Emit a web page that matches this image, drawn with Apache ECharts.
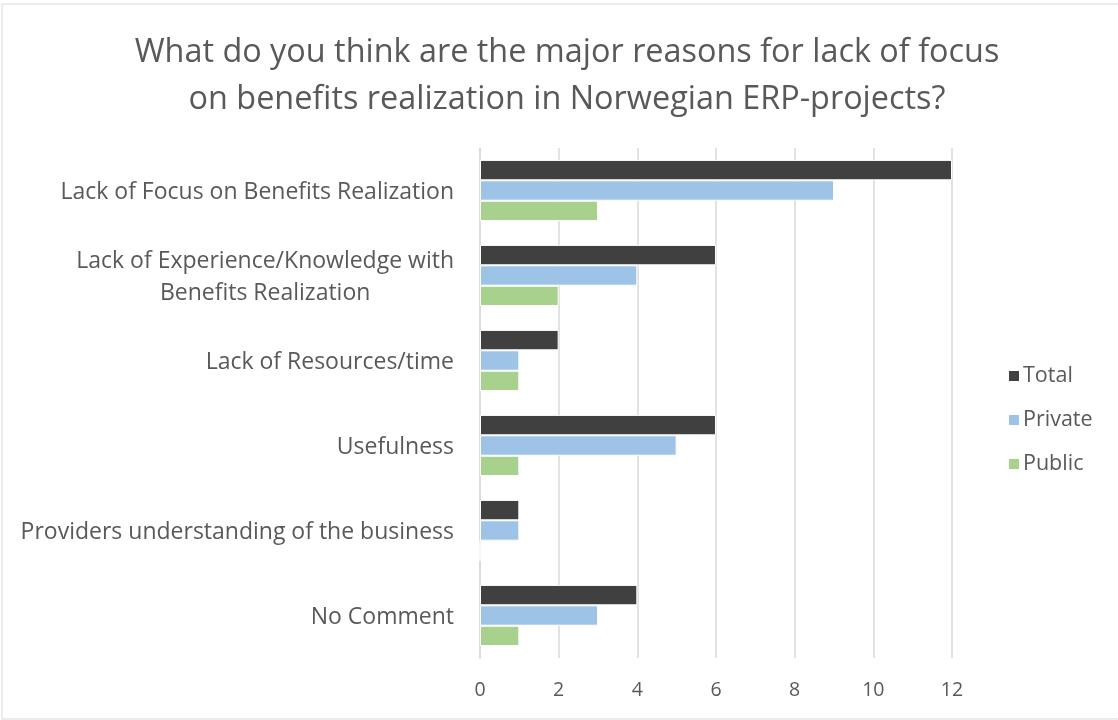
<!DOCTYPE html>
<html>
<head>
<meta charset="utf-8">
<script src="https://cdn.jsdelivr.net/npm/echarts@6/dist/echarts.min.js"></script>
<style>
  html, body { margin: 0; padding: 0; background: #fff; }
  #chart { width: 1118px; height: 720px; }
</style>
</head>
<body>
<div id="chart"></div>
<script>
// Survey answers: reasons for lack of focus on benefits realization
const categories = [
  'Lack of Focus on Benefits Realization',
  'Lack of Experience/Knowledge with\nBenefits Realization',
  'Lack of Resources/time',
  'Usefulness',
  'Providers understanding of the business',
  'No Comment'
];
const totalValues   = [12, 6, 2, 6, 1, 4];
const privateValues = [9, 4, 1, 5, 1, 3];
const publicValues  = [3, 2, 1, 1, 0, 1];
const xTicks = [0, 2, 4, 6, 8, 10, 12];

const FONT = '"Open Sans", Lato, sans-serif';
const TEXT = '#595959';

const chart = echarts.init(document.getElementById('chart'), null, { renderer: 'canvas' });

const barBase = {
  type: 'bar',
  barGap: '0%',
  barCategoryGap: '28%',
  itemStyle: { borderColor: '#ffffff', borderWidth: 1 }
};

chart.setOption({
  animation: false,
  backgroundColor: '#ffffff',
  title: {
    text: 'What do you think are the major reasons for lack of focus\non benefits realization in Norwegian ERP-projects?',
    left: 562,
    top: 24,
    textAlign: 'center',
    textStyle: {
      fontFamily: FONT,
      fontSize: 32.4,
      fontWeight: 'normal',
      color: TEXT,
      lineHeight: 47
    }
  },
  graphic: [{
    type: 'rect',
    shape: { x: 2, y: 4, width: 1125, height: 715 },
    style: { fill: 'none', stroke: '#d9d9d9', lineWidth: 1 },
    silent: true,
    z: -1
  }],
  legend: {
    orient: 'vertical',
    left: 1002,
    top: 359,
    itemWidth: 12,
    itemHeight: 12,
    itemGap: 20,
    icon: 'rect',
    textStyle: { fontFamily: FONT, fontSize: 21.5, color: TEXT, padding: [0, 0, 0, -2], lineHeight: 24 },
    data: ['Total', 'Private', 'Public']
  },
  grid: { left: 480, right: 166, top: 148, bottom: 62 },
  xAxis: {
    type: 'value',
    min: xTicks[0],
    max: xTicks[xTicks.length - 1],
    interval: xTicks[1] - xTicks[0],
    axisLine: { show: false },
    axisTick: { show: false },
    axisLabel: { fontFamily: FONT, fontSize: 19.5, color: TEXT, margin: 22 },
    splitLine: { show: true, lineStyle: { color: '#d9d9d9', width: 1.5 } }
  },
  yAxis: {
    type: 'category',
    inverse: true,
    data: categories,
    axisLine: { show: true, lineStyle: { color: '#d9d9d9', width: 1.5 } },
    axisTick: { show: false },
    axisLabel: {
      margin: 26,
      padding: [4, 0, 0, 0],
      formatter: v => v.split('\n').map(s => '{c|' + s + '}').join('\n'),
      rich: {
        c: { fontFamily: FONT, fontSize: 23, color: TEXT, align: 'center', lineHeight: 32 }
      }
    }
  },
  series: [
    Object.assign({}, barBase, { name: 'Total',   data: totalValues,   itemStyle: Object.assign({}, barBase.itemStyle, { color: '#404040' }) }),
    Object.assign({}, barBase, { name: 'Private', data: privateValues, itemStyle: Object.assign({}, barBase.itemStyle, { color: '#9dc3e6' }) }),
    Object.assign({}, barBase, { name: 'Public',  data: publicValues,  itemStyle: Object.assign({}, barBase.itemStyle, { color: '#a9d18e' }) })
  ]
});
</script>
</body>
</html>
